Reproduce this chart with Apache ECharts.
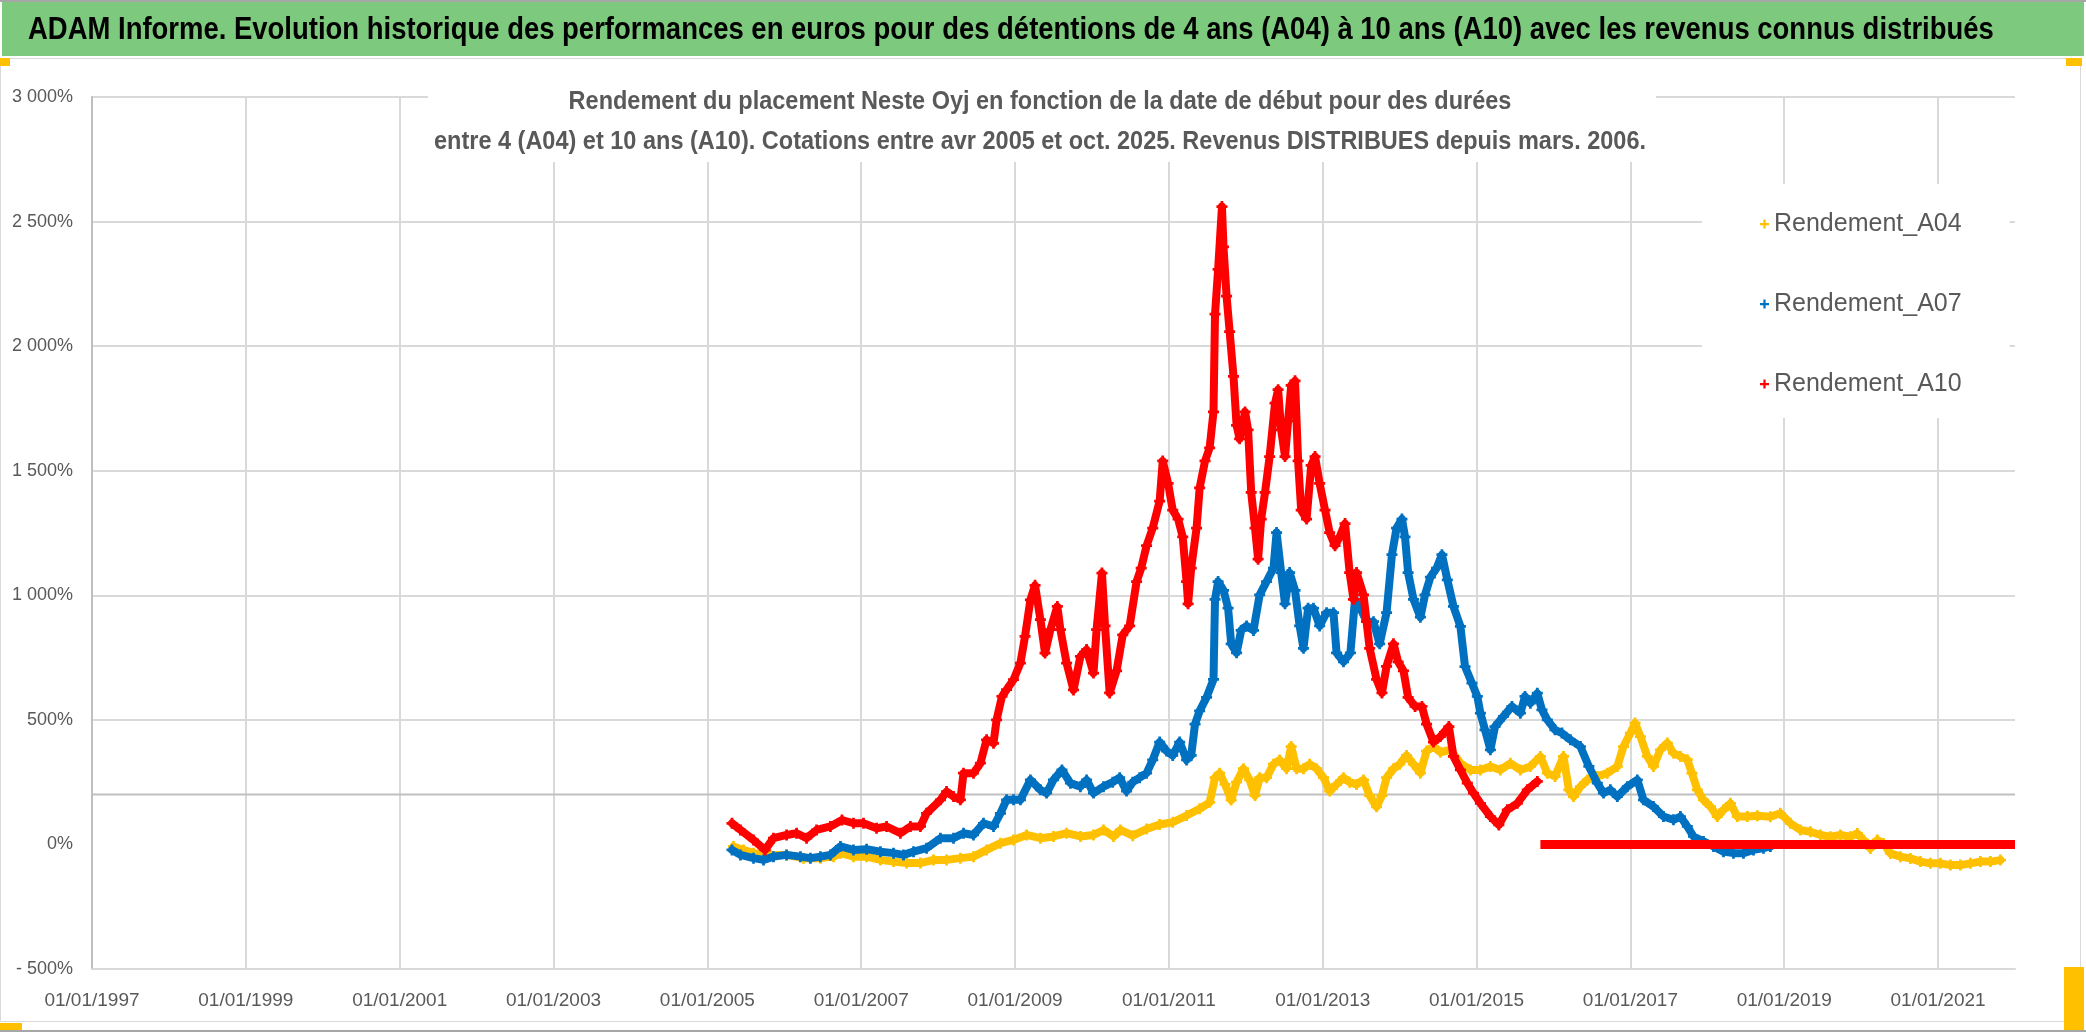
<!DOCTYPE html>
<html><head><meta charset="utf-8">
<script src="https://cdn.jsdelivr.net/npm/echarts@6/dist/echarts.min.js"></script>
<style>html,body{margin:0;padding:0;background:#fff;overflow:hidden}#c{width:2086px;height:1032px}</style>
</head><body><div id="c"></div><script>
// ---- data (decimal years, % values) ----
const axisStartYear = 1997;
const axisEndYear = 2022;
const yearTickStep = 2;
const valueTicks = [-500, 0, 500, 1000, 1500, 2000, 2500, 3000];
const refLineValue = 200;
const mainTitle = 'ADAM Informe. Evolution historique des performances en euros pour des détentions de 4 ans (A04) à 10 ans (A10) avec les revenus connus distribués';
const subTitle1 = 'Rendement du placement Neste Oyj en fonction de la date de début pour des durées';
const subTitle2 = 'entre 4 (A04) et 10 ans (A10). Cotations entre avr 2005 et oct. 2025. Revenus DISTRIBUES depuis mars. 2006.';

const years_A04 = [2005.34,2005.47,2005.60,2005.82,2006.03,2006.25,2006.47,2006.64,2006.73,2006.90,2007.07,2007.25,2007.42,2007.59,2007.77,2007.94,2008.11,2008.29,2008.46,2008.63,2008.81,2008.98,2009.15,2009.33,2009.50,2009.67,2009.85,2010.02,2010.15,2010.28,2010.37,2010.53,2010.71,2010.88,2011.05,2011.23,2011.40,2011.53,2011.60,2011.66,2011.73,2011.81,2011.88,2011.97,2012.05,2012.12,2012.18,2012.27,2012.36,2012.44,2012.53,2012.59,2012.66,2012.75,2012.83,2012.92,2013.01,2013.09,2013.18,2013.27,2013.35,2013.44,2013.53,2013.61,2013.70,2013.77,2013.83,2013.92,2014.00,2014.09,2014.18,2014.27,2014.35,2014.44,2014.53,2014.66,2014.79,2014.92,2015.05,2015.18,2015.31,2015.44,2015.57,2015.70,2015.83,2015.92,2016.02,2016.13,2016.20,2016.26,2016.35,2016.44,2016.57,2016.70,2016.83,2016.91,2017.00,2017.06,2017.13,2017.22,2017.30,2017.39,2017.48,2017.56,2017.65,2017.74,2017.80,2017.87,2017.95,2018.04,2018.13,2018.21,2018.30,2018.39,2018.52,2018.65,2018.82,2018.95,2019.08,2019.21,2019.34,2019.47,2019.60,2019.73,2019.86,2019.95,2020.03,2020.12,2020.21,2020.29,2020.38,2020.51,2020.64,2020.77,2020.90,2021.03,2021.16,2021.29,2021.42,2021.55,2021.68,2021.81];
const values_A04 = [-8,-22,-35,-42,-42,-55,-55,-49,-35,-49,-49,-62,-69,-75,-75,-62,-62,-55,-49,-22,5,18,38,25,32,45,32,38,58,32,58,35,62,80,89,116,143,169,268,286,241,178,250,304,259,196,268,268,322,339,304,393,304,304,322,304,268,214,241,268,250,241,259,196,151,196,268,304,322,357,322,286,375,393,370,380,326,299,299,313,299,326,299,313,353,286,273,353,219,192,232,259,273,286,313,393,447,487,433,353,313,380,407,366,353,340,286,219,179,152,112,139,165,112,112,115,111,125,85,58,51,38,31,38,31,44,18,-16,18,4,-36,-49,-56,-69,-76,-76,-83,-83,-76,-69,-69,-63];

const years_A07 = [2005.32,2005.43,2005.60,2005.73,2005.86,2006.03,2006.21,2006.34,2006.47,2006.60,2006.73,2006.90,2007.07,2007.25,2007.42,2007.55,2007.68,2007.85,2008.03,2008.20,2008.33,2008.46,2008.59,2008.72,2008.81,2008.89,2008.98,2009.07,2009.20,2009.33,2009.41,2009.50,2009.61,2009.72,2009.85,2009.93,2010.02,2010.15,2010.27,2010.36,2010.45,2010.53,2010.62,2010.71,2010.79,2010.88,2010.97,2011.05,2011.14,2011.23,2011.29,2011.34,2011.40,2011.49,2011.58,2011.60,2011.64,2011.71,2011.77,2011.81,2011.88,2011.94,2012.01,2012.10,2012.18,2012.27,2012.36,2012.40,2012.46,2012.51,2012.57,2012.64,2012.70,2012.75,2012.81,2012.88,2012.96,2013.05,2013.14,2013.18,2013.27,2013.36,2013.42,2013.49,2013.57,2013.66,2013.74,2013.83,2013.90,2013.96,2014.03,2014.07,2014.11,2014.18,2014.27,2014.33,2014.40,2014.48,2014.55,2014.62,2014.70,2014.79,2014.85,2014.94,2015.01,2015.05,2015.11,2015.18,2015.24,2015.35,2015.46,2015.57,2015.63,2015.70,2015.79,2015.85,2015.92,2016.02,2016.11,2016.22,2016.35,2016.46,2016.57,2016.65,2016.74,2016.83,2016.96,2017.09,2017.17,2017.30,2017.43,2017.56,2017.65,2017.74,2017.82,2017.95,2018.08,2018.21,2018.34,2018.47,2018.60,2018.73,2018.82];
const values_A07 = [-22,-42,-55,-62,-49,-42,-49,-55,-49,-42,-8,-22,-19,-29,-35,-42,-29,-15,25,25,45,38,85,72,125,179,179,179,259,219,206,259,299,246,232,259,206,232,250,268,214,250,268,286,339,411,375,357,411,339,357,483,536,590,662,984,1055,1020,948,805,769,859,877,859,1002,1055,1109,1252,1091,966,1091,1020,877,787,948,948,877,930,930,769,733,769,984,948,894,894,805,930,1163,1270,1306,1234,1091,984,912,1002,1073,1109,1163,1062,955,875,714,647,594,527,460,380,473,514,554,527,594,567,607,540,500,460,447,420,393,313,246,206,219,192,232,259,179,152,112,99,112,72,32,12,-8,-29,-35,-35,-22,-15,-8];

const years_A10 = [2005.32,2005.43,2005.60,2005.75,2005.86,2006.03,2006.16,2006.29,2006.42,2006.60,2006.75,2006.90,2007.03,2007.20,2007.33,2007.51,2007.64,2007.77,2007.85,2008.03,2008.11,2008.20,2008.29,2008.33,2008.46,2008.55,2008.63,2008.72,2008.76,2008.83,2008.89,2008.98,2009.07,2009.13,2009.20,2009.26,2009.33,2009.39,2009.46,2009.55,2009.59,2009.67,2009.76,2009.85,2009.93,2010.02,2010.06,2010.13,2010.17,2010.23,2010.32,2010.40,2010.49,2010.58,2010.64,2010.71,2010.79,2010.88,2010.92,2010.99,2011.05,2011.12,2011.18,2011.23,2011.25,2011.29,2011.36,2011.40,2011.47,2011.53,2011.58,2011.60,2011.64,2011.69,2011.71,2011.75,2011.79,2011.84,2011.88,2011.92,2011.99,2012.03,2012.07,2012.12,2012.16,2012.20,2012.25,2012.31,2012.38,2012.42,2012.46,2012.51,2012.55,2012.59,2012.64,2012.68,2012.72,2012.79,2012.85,2012.90,2012.96,2013.03,2013.09,2013.16,2013.22,2013.29,2013.35,2013.40,2013.44,2013.53,2013.57,2013.61,2013.70,2013.77,2013.83,2013.92,2013.98,2014.05,2014.11,2014.20,2014.29,2014.35,2014.44,2014.53,2014.64,2014.70,2014.79,2014.88,2014.96,2015.05,2015.18,2015.29,2015.40,2015.53,2015.66,2015.79];
const values_A10 = [85,58,18,-22,25,38,45,25,58,72,98,85,85,65,72,45,72,72,125,179,212,192,179,286,286,326,420,406,500,594,621,661,728,835,982,1040,902,768,862,955,862,728,620,755,782,688,862,1089,877,608,697,841,877,1055,1109,1199,1270,1378,1539,1449,1342,1306,1234,1055,966,1109,1270,1431,1539,1592,1736,2129,2308,2560,2398,2201,2058,1879,1682,1628,1736,1664,1413,1270,1145,1306,1413,1557,1771,1825,1664,1557,1700,1843,1861,1539,1342,1306,1521,1557,1449,1342,1252,1199,1234,1288,1091,984,1091,1002,894,787,662,608,715,805,733,697,590,554,554,483,411,433,473,353,299,246,206,165,112,78,139,165,219,253];
// A10 values equal to 0 from this start to the end of the axis
const years_A10_zero = [2015.83, 2022.0];
const values_A10_zero = [0, 0];

// ---- build ----
const pairs = (ys, vs) => ys.map((y, i) => [y - axisStartYear, vs[i]]);
const PLUS = 'path://M3,0H5V3H8V5H5V8H3V5H0V3H3Z';
const C04 = '#FFC000', C07 = '#0070C0', C10 = '#FF0000';
const FONT = "'Liberation Sans', Arial, sans-serif";

function fmtPct(v) {
  const s = String(Math.abs(v)).replace(/\B(?=(\d{3})+(?!\d))/g, ' ');
  return (v < 0 ? '- ' : '') + s + '%';
}

const chart = echarts.init(document.getElementById('c'), null, {renderer: 'canvas'});
const gridColors = valueTicks.map(v => v === 0 ? 'rgba(0,0,0,0)' : '#D9D9D9');

const mkLine = (name, data, color, z) => ({
  name, type: 'line', data, z,
  symbol: PLUS, symbolSize: 11, showSymbol: true,
  lineStyle: {color, width: 8, join: 'round', cap: 'round'},
  itemStyle: {color},
  emphasis: {disabled: true}, animation: false, silent: true
});

chart.setOption({
  backgroundColor: '#fff',
  animation: false,
  legend: {
    data: ['Rendement_A04', 'Rendement_A07', 'Rendement_A10'],
    orient: 'vertical', left: 1702, top: 184,
    backgroundColor: '#fff',
    padding: [25, 48, 19, 58],
    itemGap: 50, itemWidth: 9, itemHeight: 9,
    icon: PLUS,
    textStyle: {fontFamily: FONT, fontSize: 25, color: '#595959', lineHeight: 30},
    selectedMode: false, z: 10
  },
  grid: {left: 92, right: 71, top: 97, bottom: 63, containLabel: false},
  xAxis: {
    type: 'value', min: 0, max: axisEndYear - axisStartYear, interval: yearTickStep,
    axisLine: {show: true, onZero: false, lineStyle: {color: '#D9D9D9', width: 2}},
    axisTick: {show: false},
    axisLabel: {
      margin: 22, fontFamily: FONT, fontSize: 19, color: '#595959', showMaxLabel: false,
      formatter: v => (v % yearTickStep === 0 ? '01/01/' + (axisStartYear + v) : '')
    },
    splitLine: {show: true, showMaxLine: false, lineStyle: {color: '#D9D9D9', width: 2}}
  },
  yAxis: {
    type: 'value', min: valueTicks[0], max: valueTicks[valueTicks.length - 1], interval: 500,
    axisLine: {show: true, lineStyle: {color: '#BFBFBF', width: 2}},
    axisTick: {show: false},
    axisLabel: {margin: 19, fontFamily: FONT, fontSize: 18, color: '#595959', formatter: fmtPct},
    splitLine: {show: true, lineStyle: {color: gridColors, width: 2}}
  },
  series: [
    {name: 'ref', type: 'line', data: [[0, refLineValue], [axisEndYear - axisStartYear, refLineValue]],
     symbol: 'none', lineStyle: {color: '#BFBFBF', width: 2}, z: 1, silent: true, animation: false},
    mkLine('Rendement_A04', pairs(years_A04, values_A04), C04, 2),
    mkLine('Rendement_A07', pairs(years_A07, values_A07), C07, 3),
    mkLine('Rendement_A10', pairs(years_A10, values_A10), C10, 4),
    {name: 'Rendement_A10', type: 'line', data: pairs(years_A10_zero, values_A10_zero), z: 4,
     symbol: 'none', lineStyle: {color: C10, width: 9}, itemStyle: {color: C10}, silent: true, animation: false}
  ],
  graphic: [
    {type: 'rect', shape: {x: 0.5, y: 58.5, width: 2080, height: 963}, style: {fill: 'none', stroke: '#D9D9D9', lineWidth: 1}, z: -1},
    // subtitle box
    {type: 'rect', shape: {x: 428, y: 80, width: 1228, height: 82}, style: {fill: '#fff'}, z: 20},
    {type: 'text', x: 1040, y: 102, scaleX: 0.94, z: 21,
     style: {text: subTitle1, textAlign: 'center', textVerticalAlign: 'middle',
             font: "bold 25px 'Liberation Sans', Arial, sans-serif", fill: '#595959'}},
    {type: 'text', x: 1040, y: 142, scaleX: 0.94, z: 21,
     style: {text: subTitle2, textAlign: 'center', textVerticalAlign: 'middle',
             font: "bold 25px 'Liberation Sans', Arial, sans-serif", fill: '#595959'}},
    // header
    {type: 'rect', shape: {x: 0, y: 0, width: 2086, height: 2}, style: {fill: '#A6A6A6'}, z: 20},
    {type: 'rect', shape: {x: 2, y: 2, width: 2082, height: 54}, style: {fill: '#7DC97D'}, z: 20},
    {type: 'text', x: 28, y: 30, scaleX: 0.886, z: 21,
     style: {text: mainTitle, textAlign: 'left', textVerticalAlign: 'middle',
             font: "bold 31px 'Liberation Sans', Arial, sans-serif", fill: '#000'}},
    // selection handles
    {type: 'rect', shape: {x: 0, y: 58, width: 10, height: 8}, style: {fill: '#FFC000'}, z: 21},
    {type: 'rect', shape: {x: 2066, y: 58, width: 16, height: 8}, style: {fill: '#FFC000'}, z: 21},
    {type: 'rect', shape: {x: 0, y: 1023, width: 22, height: 7}, style: {fill: '#FFC000'}, z: 21},
    {type: 'rect', shape: {x: 2064, y: 967, width: 20, height: 63}, style: {fill: '#FFC000'}, z: 21},
    {type: 'rect', shape: {x: 0, y: 1030, width: 2086, height: 2}, style: {fill: '#A6A6A6'}, z: 21}
  ]
});
</script></body></html>
